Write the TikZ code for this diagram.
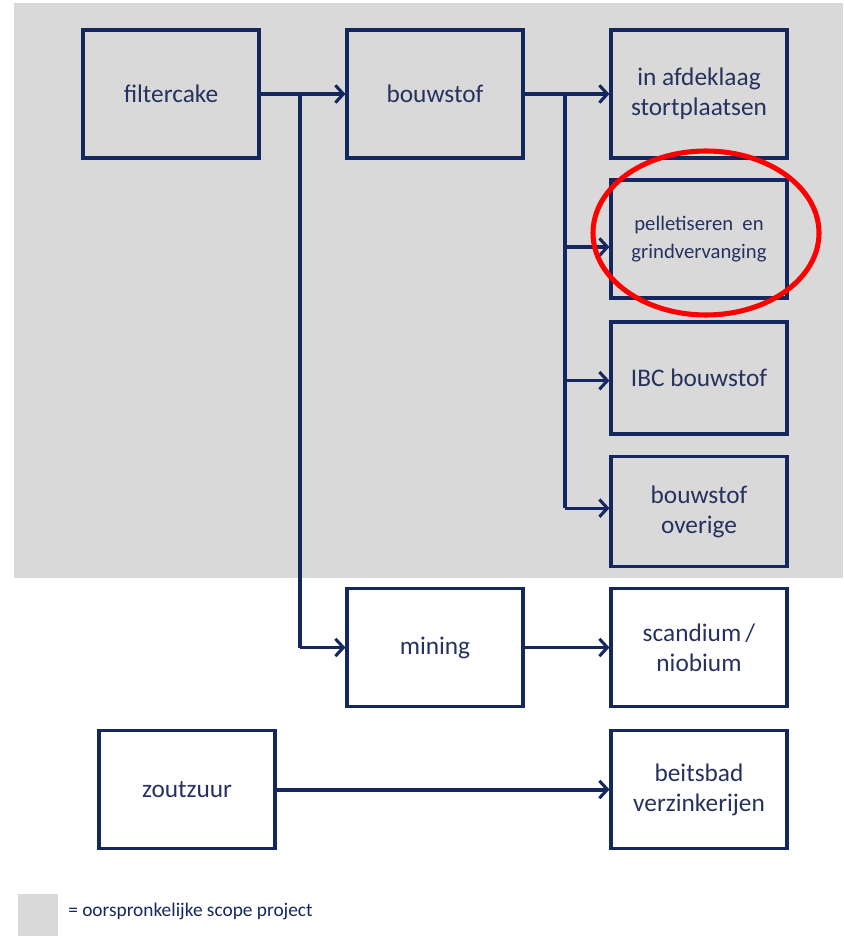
\documentclass[tikz,border=0pt]{standalone}
\usepackage{fontspec}
\setmainfont{Carlito}
\usetikzlibrary{arrows.meta}
\definecolor{navy}{HTML}{14275E}
\definecolor{txt}{HTML}{26315E}
\definecolor{bggray}{HTML}{D9D9D9}
\tikzset{
  box/.style={draw=navy, line width=2.3pt, minimum width=132pt, align=center,
    text=txt, font=\fontsize{19}{22.5}\selectfont, inner sep=0pt},
  conn/.style={draw=navy, line width=2.3pt, -{Straight Barb[length=6pt,width=13pt,line width=2.3pt]}},
  trunk/.style={draw=navy, line width=2.3pt},
}
\begin{document}
\begin{tikzpicture}[x=0.75pt,y=-0.75pt]
\useasboundingbox (0,0) rectangle (843,937);
\fill[bggray] (14,3) rectangle (843,578);
% boxes
\node[box, minimum height=96pt] (fc) at (171,94) {filtercake};
\node[box, minimum height=96pt] (bs) at (435,94) {bouwstof};
\node[box, minimum height=96pt] (af) at (699,94) {in afdeklaag\\stortplaatsen};
\node[box, minimum height=88.5pt, font=\fontsize{15.5}{21}\selectfont] (pel) at (699,239) {pelletiseren\ \ en\\grindvervanging};
\node[box, minimum height=84pt] (ibc) at (699,378) {IBC bouwstof};
\node[box, minimum height=83pt] (ov) at (699,511.5) {bouwstof\\overige};
\node[box, minimum height=88pt] (mi) at (435,647.5) {mining};
\node[box, minimum height=88pt] (sc) at (699,647.5) {scandium\,/\\niobium};
\node[box, minimum height=88pt] (zz) at (187,789.5) {zoutzuur};
\node[box, minimum height=88pt] (bb) at (699,789.5) {beitsbad\\verzinkerijen};
% connectors
\coordinate (j1) at (300,94);
\coordinate (j2) at (565,94);
\draw[conn] (fc.east) -- (bs.west);
\draw[trunk] (j1) -- (j1 |- mi.west);
\draw[conn] (j1 |- mi.west) -- (mi.west);
\draw[conn] (bs.east) -- (af.west);
\coordinate (p1) at ([yshift=-6pt]pel.west);
\coordinate (p2) at ([yshift=-2pt]ibc.west);
\coordinate (p3) at ([yshift=2.5pt]ov.west);
\draw[trunk] (j2) -- (j2 |- p3);
\draw[conn] (j2 |- p1) -- (p1);
\draw[conn] (j2 |- p2) -- (p2);
\draw[conn] (j2 |- p3) -- (p3);
\draw[conn] (mi.east) -- (sc.west);
\draw[conn, line width=3pt] (zz.east) -- (bb.west);
% highlight
\draw[red, line width=3.8pt] (706,233) ellipse [x radius=113, y radius=82];
% legend
\fill[bggray] (18,894) rectangle (58,936);
\node[anchor=west, text=navy, font=\fontsize{14.5}{16}\selectfont, inner sep=0pt] (lg) at (68,911) {= oorspronkelijke scope project};
\end{tikzpicture}
\end{document}
